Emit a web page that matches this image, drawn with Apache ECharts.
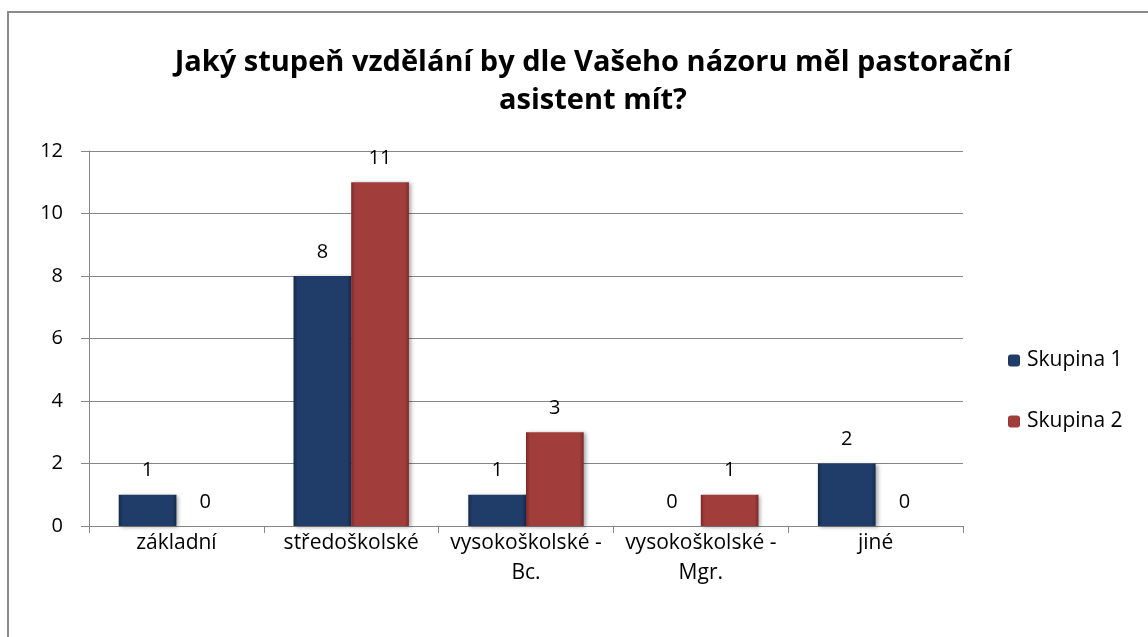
<!DOCTYPE html>
<html>
<head>
<meta charset="utf-8">
<script src="https://cdn.jsdelivr.net/npm/echarts@6/dist/echarts.min.js"></script>
<style>
  html, body { margin: 0; padding: 0; background: #fff; }
  #main { width: 1148px; height: 637px; }
</style>
</head>
<body>
<div id="main"></div>
<script>
var categories = ['základní', 'středoškolské', 'vysokoškolské -\nBc.', 'vysokoškolské -\nMgr.', 'jiné'];
var skupina1 = [1, 8, 1, 0, 2];
var skupina2 = [0, 11, 3, 1, 0];
var yTicks = [0, 2, 4, 6, 8, 10, 12];

var FONT = 'Open Sans';

function barColor(dark, mid) {
  return new echarts.graphic.LinearGradient(0, 0, 1, 0, [
    { offset: 0, color: dark },
    { offset: 0.07, color: mid },
    { offset: 0.93, color: mid },
    { offset: 1, color: dark }
  ]);
}

var labelStyle = {
  show: true,
  position: 'top',
  distance: 14,
  fontFamily: FONT,
  fontSize: 20,
  color: '#000'
};

var chart = echarts.init(document.getElementById('main'));

var option = {
  backgroundColor: '#fff',
  animation: false,
  title: {
    text: 'Jaký stupeň vzdělání by dle Vašeho názoru měl pastorační\nasistent mít?',
    left: 588,
    textAlign: 'center',
    top: 39,
    textStyle: {
      fontFamily: FONT,
      fontWeight: 'bold',
      fontSize: 29,
      lineHeight: 38,
      color: '#000'
    }
  },
  legend: {
    orient: 'vertical',
    left: 1003,
    top: 345,
    itemWidth: 12,
    itemHeight: 12,
    itemGap: 40,
    data: ['Skupina 1', 'Skupina 2'],
    textStyle: { fontFamily: FONT, fontSize: 21, color: '#000', padding: [0, 0, 0, 2] }
  },
  grid: {
    left: 89,
    top: 151,
    width: 874,
    height: 375,
    containLabel: false
  },
  xAxis: {
    type: 'category',
    data: categories,
    axisLine: { lineStyle: { color: '#868686', width: 1 } },
    axisTick: { show: true, length: 7, lineStyle: { color: '#868686' } },
    axisLabel: {
      interval: 0,
      fontFamily: FONT,
      fontSize: 21,
      color: '#000',
      lineHeight: 30,
      margin: 2
    }
  },
  yAxis: {
    type: 'value',
    min: yTicks[0],
    max: yTicks[yTicks.length - 1],
    interval: 2,
    axisLine: { show: true, lineStyle: { color: '#868686', width: 1 } },
    axisTick: { show: true, length: 8, lineStyle: { color: '#868686' } },
    splitLine: { lineStyle: { color: '#868686', width: 1 } },
    axisLabel: {
      fontFamily: FONT,
      fontSize: 20,
      color: '#000',
      margin: 26
    }
  },
  series: [{
    name: 'Skupina 1',
    type: 'bar',
    data: skupina1,
    barGap: '0%',
    barCategoryGap: '34%',
    itemStyle: {
      color: barColor('#15294a', '#1f3d68'),
      shadowColor: 'rgba(0,0,0,0.35)',
      shadowBlur: 4,
      shadowOffsetX: 2,
      shadowOffsetY: 1
    },
    label: labelStyle
  }, {
    name: 'Skupina 2',
    type: 'bar',
    data: skupina2,
    itemStyle: {
      color: barColor('#7c2a29', '#a13d3b'),
      shadowColor: 'rgba(0,0,0,0.35)',
      shadowBlur: 4,
      shadowOffsetX: 2,
      shadowOffsetY: 1
    },
    label: labelStyle
  }],
  graphic: [{
    type: 'rect',
    shape: { x: 8, y: 12, width: 1200, height: 700 },
    style: { fill: 'none', stroke: '#8a8a8a', lineWidth: 2 },
    silent: true,
    z: -1
  }]
};

chart.setOption(option);
</script>
</body>
</html>
